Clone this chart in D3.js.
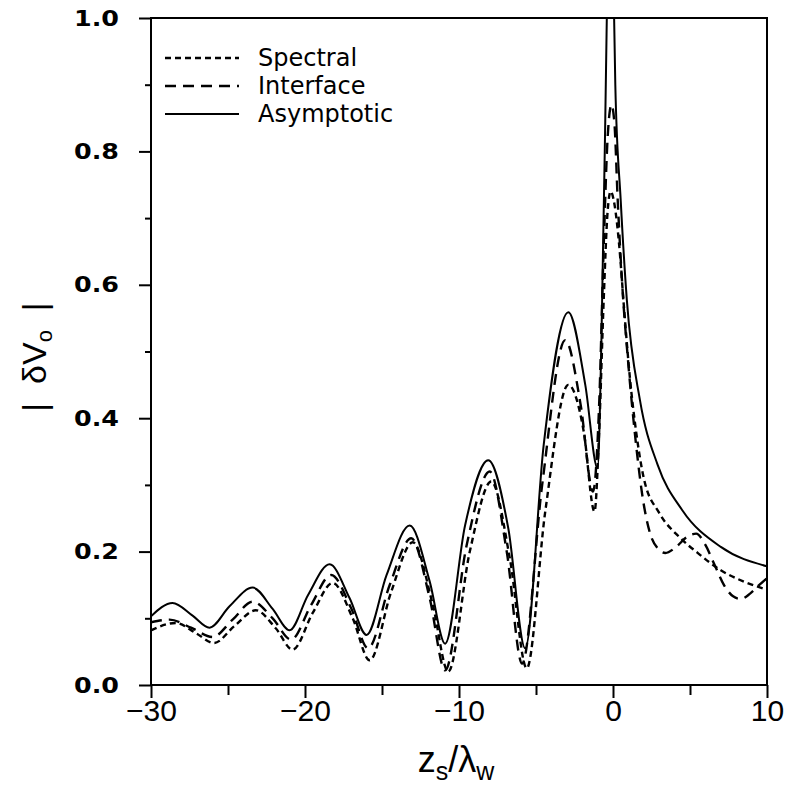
<!DOCTYPE html>
<html>
<head>
<meta charset="utf-8">
<script src="https://cdn.jsdelivr.net/npm/d3@7"></script>
<style>
  body { margin: 0; background: #fff; }
  svg { display: block; }
</style>
</head>
<body>
<svg id="chart" width="787" height="787"></svg>
<script>
// values: [z_s / lambda_w, |dV0|]
var spectral = [
    [-30, 0.082], [-28.4, 0.093], [-27.1, 0.078], [-25.9, 0.063], [-24.6, 0.088],
    [-23.2, 0.112], [-21.9, 0.085], [-20.8, 0.053], [-19.5, 0.108], [-18.2, 0.153],
    [-16.9, 0.100], [-15.8, 0.037], [-14.4, 0.140], [-13.0, 0.214], [-11.7, 0.120],
    [-10.7, 0.020], [-9.3, 0.200], [-7.9, 0.305], [-6.7, 0.190], [-5.6, 0.025],
    [-4.4, 0.260], [-2.9, 0.450], [-1.9, 0.380], [-1.2, 0.260], [-0.9, 0.380],
    [-0.6, 0.580], [-0.35, 0.710], [-0.15, 0.740], [0.1, 0.720], [0.4, 0.660],
    [0.7, 0.570], [1.1, 0.460], [1.5, 0.380], [2.0, 0.310], [3.0, 0.258],
    [4.3, 0.222], [5.5, 0.198], [7.0, 0.172], [8.5, 0.155], [10, 0.143]
];

var interfaceVals = [
    [-30, 0.094], [-28.8, 0.098], [-27.4, 0.086], [-26.0, 0.072], [-24.7, 0.098],
    [-23.4, 0.125], [-22.1, 0.100], [-20.9, 0.068], [-19.6, 0.120], [-18.3, 0.165],
    [-17.0, 0.115], [-15.9, 0.055], [-14.5, 0.150], [-13.1, 0.220], [-11.9, 0.130],
    [-10.9, 0.022], [-9.5, 0.210], [-8.0, 0.320], [-6.9, 0.200], [-5.9, 0.032],
    [-4.6, 0.300], [-3.1, 0.517], [-2.1, 0.420], [-1.3, 0.290], [-0.9, 0.420],
    [-0.6, 0.660], [-0.35, 0.820], [-0.1, 0.870], [0.1, 0.840], [0.3, 0.730],
    [0.6, 0.600], [1.0, 0.480], [1.5, 0.360], [1.9, 0.285], [2.4, 0.228],
    [2.9, 0.205], [3.4, 0.198], [4.1, 0.207], [4.8, 0.222], [5.4, 0.227],
    [6.0, 0.210], [6.6, 0.180], [7.2, 0.150], [7.8, 0.133], [8.3, 0.129],
    [8.9, 0.137], [9.5, 0.150], [10, 0.160]
];

var asymptotic = [
    [-30, 0.103], [-28.6, 0.123], [-27.3, 0.104], [-26.2, 0.086], [-24.9, 0.118],
    [-23.4, 0.146], [-22.1, 0.114], [-21.0, 0.082], [-19.8, 0.135], [-18.4, 0.181],
    [-17.1, 0.130], [-16.0, 0.075], [-14.7, 0.165], [-13.2, 0.239], [-11.9, 0.155],
    [-10.9, 0.062], [-9.6, 0.240], [-8.1, 0.337], [-6.8, 0.235], [-5.7, 0.055],
    [-4.5, 0.360], [-2.9, 0.559], [-1.8, 0.450], [-1.0, 0.325], [-0.75, 0.520],
    [-0.5, 0.850], [-0.3, 1.150], [-0.15, 1.300], [0.0, 1.100], [0.15, 0.900],
    [0.5, 0.727], [0.9, 0.577], [1.75, 0.427], [2.9, 0.330], [4.5, 0.262],
    [7, 0.207], [10, 0.178]
];

var xMajorTicks = [-30, -20, -10, 0, 10];
var xMinorTicks = [-25, -15, -5, 5];
var yMajorTicks = [0.0, 0.2, 0.4, 0.6, 0.8, 1.0];
var yMinorTicks = [0.1, 0.3, 0.5, 0.7, 0.9];

var legendNames = ["Spectral", "Interface", "Asymptotic"];

var margin = {top: 18, right: 20, bottom: 102, left: 151},
    width = 787 - margin.left - margin.right,
    height = 787 - margin.top - margin.bottom;

var svg = d3.select("#chart");
var g = svg.append("g")
        .attr("transform", "translate(" + margin.left + "," + margin.top + ")");

var x = d3.scaleLinear().domain([-30, 10]).range([0, width]);
var y = d3.scaleLinear().domain([0, 1]).range([height, 0]);

// clip so the big spike is cut at the top of the frame
g.append("clipPath").attr("id", "plotClip")
        .append("rect")
        .attr("width", width)
        .attr("height", height);

// x axis
var xAxis = g.append("g")
        .attr("transform", "translate(0," + height + ")")
        .call(d3.axisBottom(x).tickValues(xMajorTicks).tickSize(13).tickPadding(2)
                .tickFormat(d3.format("d")));
xAxis.select(".domain").remove();
xAxis.selectAll("line").attr("stroke", "#000").attr("stroke-width", 2);
xAxis.selectAll("text")
        .style("font-family", "'Liberation Sans', Arial, sans-serif")
        .style("font-size", "30px")
        .attr("fill", "#000");

var xMinor = g.append("g")
        .attr("transform", "translate(0," + height + ")")
        .call(d3.axisBottom(x).tickValues(xMinorTicks).tickSize(10).tickFormat(""));
xMinor.select(".domain").remove();
xMinor.selectAll("line").attr("stroke", "#000").attr("stroke-width", 2);

// y axis
var yAxis = g.append("g")
        .call(d3.axisLeft(y).tickValues(yMajorTicks).tickSize(12).tickPadding(20)
                .tickFormat(d3.format(".1f")));
yAxis.select(".domain").remove();
yAxis.selectAll("line").attr("stroke", "#000").attr("stroke-width", 2);
yAxis.selectAll("text")
        .style("font-family", "'DejaVu Sans', sans-serif")
        .style("font-size", "22px")
        .style("font-weight", "bold")
        .attr("fill", "#000")
        .attr("textLength", 45)
        .attr("lengthAdjust", "spacingAndGlyphs");

var yMinor = g.append("g")
        .call(d3.axisLeft(y).tickValues(yMinorTicks).tickSize(6).tickFormat(""));
yMinor.select(".domain").remove();
yMinor.selectAll("line").attr("stroke", "#000").attr("stroke-width", 2);

// frame
g.append("rect")
        .attr("width", width)
        .attr("height", height)
        .attr("fill", "none")
        .attr("stroke", "#000")
        .attr("stroke-width", 2);

// curves
var line = d3.line()
        .x(function(d) { return x(d[0]); })
        .y(function(d) { return y(d[1]); })
        .curve(d3.curveMonotoneX);

var series = [
    {name: legendNames[0], values: spectral, dash: "6,4", width: 2.4},
    {name: legendNames[1], values: interfaceVals, dash: "11,7", width: 2.4},
    {name: legendNames[2], values: asymptotic, dash: null, width: 2}
];

var curves = g.append("g").attr("clip-path", "url(#plotClip)");
series.forEach(function(s) {
    curves.append("path")
            .datum(s.values)
            .attr("fill", "none")
            .attr("stroke", "#000")
            .attr("stroke-width", s.width)
            .attr("stroke-dasharray", s.dash)
            .attr("d", line);
});

// legend
var legend = g.append("g").attr("transform", "translate(12,40)");
series.forEach(function(s, i) {
    var row = legend.append("g").attr("transform", "translate(0," + (i * 28) + ")");
    row.append("line")
            .attr("x1", 2).attr("x2", 76)
            .attr("y1", 0).attr("y2", 0)
            .attr("stroke", "#000")
            .attr("stroke-width", s.width)
            .attr("stroke-dasharray", s.dash);
    row.append("text")
            .attr("x", 95)
            .attr("y", 8)
            .style("font-family", "'DejaVu Sans', sans-serif")
            .style("font-size", "24px")
            .text(s.name);
});

// axis titles
var xTitle = svg.append("text")
        .attr("x", margin.left + x(-10.2))
        .attr("y", 772)
        .attr("text-anchor", "middle")
        .style("font-family", "'Liberation Sans', Arial, sans-serif")
        .style("font-size", "36px");
xTitle.append("tspan").text("z");
xTitle.append("tspan").attr("dy", 8).style("font-size", "25px").text("s");
xTitle.append("tspan").attr("dy", -8).text("/λ");
xTitle.append("tspan").attr("dy", 8).style("font-size", "25px").text("w");

var yTitle = svg.append("text")
        .attr("transform", "translate(46,357) rotate(-90)")
        .attr("text-anchor", "middle")
        .style("font-family", "'Liberation Sans', Arial, sans-serif")
        .style("font-size", "34px")
        .attr("xml:space", "preserve");
yTitle.append("tspan").text("|  δV");
yTitle.append("tspan").attr("dy", 6).style("font-size", "22px").text("o");
yTitle.append("tspan").attr("dy", -6).text("  |");
</script>
</body>
</html>
